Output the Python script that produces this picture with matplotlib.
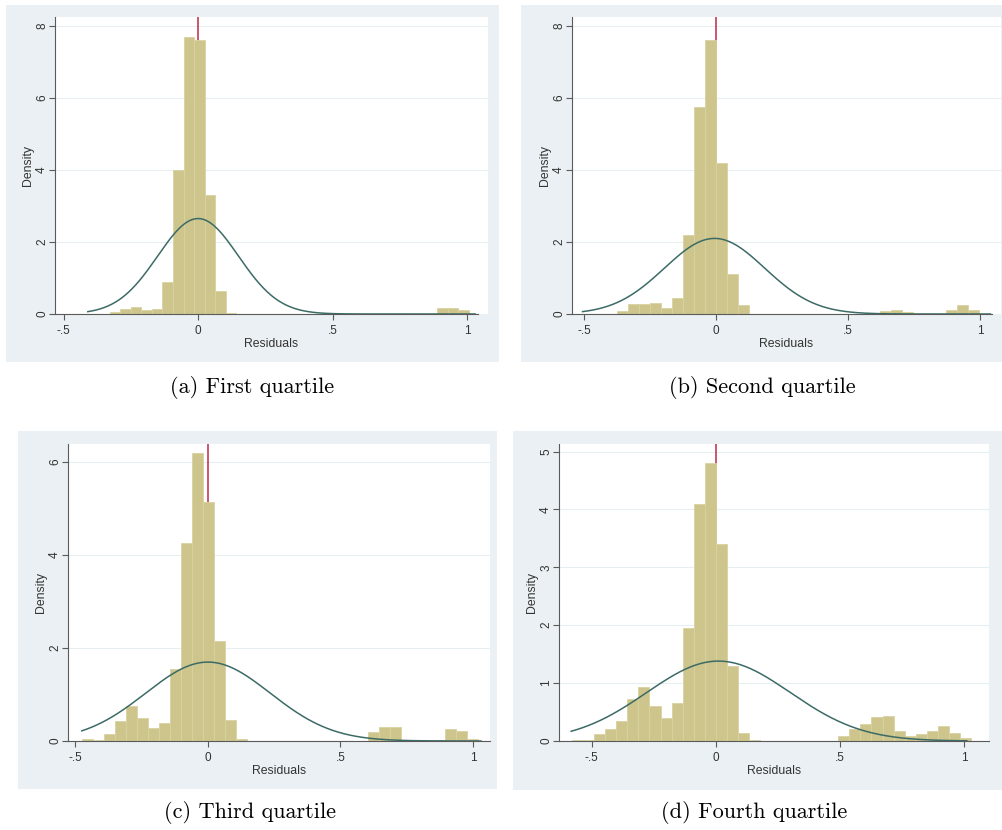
import numpy as np
import matplotlib
matplotlib.use("Agg")
import matplotlib.pyplot as plt
from matplotlib.patches import Rectangle

W, H = 1003, 830

# ---------------- data ----------------
captions = ["(a) First quartile", "(b) Second quartile",
            "(c) Third quartile", "(d) Fourth quartile"]

x_ticks = [-0.5, 0, 0.5, 1]
x_ticklabels = ["-.5", "0", ".5", "1"]

# Panel (a)
a_bin_start = -0.329
a_bin_width = 0.0393
a_heights = [0.05, 0.15, 0.2, 0.12, 0.15, 0.9, 4.0, 7.7, 7.6, 3.3, 0.65, 0.03,
             0, 0, 0, 0, 0, 0, 0, 0, 0, 0, 0, 0, 0, 0, 0.01, 0, 0, 0, 0.01,
             0.18, 0.18, 0.1]
a_mu, a_sigma = 0.0, 0.1505
a_curve_range = (-0.41, 1.03)
a_yticks = [0, 2, 4, 6, 8]

# Panel (b)
b_bin_start = -0.3735
b_bin_width = 0.0415
b_heights = [0.07, 0.28, 0.28, 0.3, 0.17, 0.45, 2.2, 5.75, 7.6,
             4.2, 1.1, 0.25, 0.01, 0, 0, 0, 0, 0, 0, 0, 0, 0, 0,
             0.02, 0.08, 0.12, 0.06, 0, 0, 0, 0.12, 0.25, 0.1]
b_mu, b_sigma = -0.005, 0.19
b_curve_range = (-0.505, 1.04)
b_yticks = [0, 2, 4, 6, 8]

# Panel (c)
c_bin_start = -0.477
c_bin_width = 0.0415
c_heights = [0.05, 0.03, 0.15, 0.42, 0.75, 0.5, 0.28, 0.38, 1.55, 4.25, 6.2,
             5.15, 2.15, 0.45, 0.04, 0.01, 0, 0, 0, 0, 0, 0, 0, 0, 0, 0,
             0.2, 0.3, 0.3, 0.02, 0.02, 0.03, 0.03, 0.25, 0.22, 0.05]
c_mu, c_sigma = 0.0, 0.235
c_curve_range = (-0.476, 1.03)
c_yticks = [0, 2, 4, 6]

# Panel (d)
d_bin_start = -0.581
d_bin_width = 0.0447
d_heights = [0.01, 0.02, 0.12, 0.2, 0.35, 0.72, 0.93, 0.6, 0.4, 0.65, 1.95, 4.1, 4.8,
             3.4, 1.3, 0.13, 0.01, 0, 0, 0, 0, 0, 0, 0,
             0.08, 0.2, 0.3, 0.42, 0.44, 0.18, 0.08, 0.12, 0.18, 0.26, 0.13, 0.05]
d_mu, d_sigma = 0.01, 0.289
d_curve_range = (-0.583, 1.01)
d_yticks = [0, 1, 2, 3, 4, 5]

# ---------------- layout / style ----------------
BG = "#EAF0F3"
BAR = "#CDC58B"
BAR_EDGE = "#D8D2A2"
CURVE = "#3C6B66"
RED = "#BB2A48"
AXC = "#5A5A5A"
TXT = "#333333"
FONT = "Liberation Sans"

panels = [
    dict(start=a_bin_start, width=a_bin_width, heights=a_heights, mu=a_mu, sigma=a_sigma,
         crange=a_curve_range, yticks=a_yticks,
         gray=(6, 5, 499, 362), box=(55, 17, 488, 314),
         xlim=(-0.532, 1.078), ylim=(0, 8.25), xbound=(-0.53, 1.04),
         cap=(252, 387)),
    dict(start=b_bin_start, width=b_bin_width, heights=b_heights, mu=b_mu, sigma=b_sigma,
         crange=b_curve_range, yticks=b_yticks,
         gray=(521, 5, 1003, 362), box=(572, 17, 1001, 314),
         xlim=(-0.545, 1.080), ylim=(0, 8.25), xbound=(-0.545, 1.045),
         cap=(762, 387)),
    dict(start=c_bin_start, width=c_bin_width, heights=c_heights, mu=c_mu, sigma=c_sigma,
         crange=c_curve_range, yticks=c_yticks,
         gray=(18, 431, 497, 789), box=(68, 444, 490, 741),
         xlim=(-0.528, 1.064), ylim=(0, 6.39), xbound=(-0.528, 1.064),
         cap=(250, 812)),
    dict(start=d_bin_start, width=d_bin_width, heights=d_heights, mu=d_mu, sigma=d_sigma,
         crange=d_curve_range, yticks=d_yticks,
         gray=(513, 431, 1002, 790), box=(559, 444, 989, 741),
         xlim=(-0.632, 1.099), ylim=(0, 5.13), xbound=(-0.632, 1.099),
         cap=(754, 812)),
]

fig = plt.figure(figsize=(W / 100, H / 100), dpi=100)
fig.patch.set_facecolor("white")

for i, p in enumerate(panels):
    gx0, gy0, gx1, gy1 = p["gray"]
    fig.add_artist(Rectangle((gx0 / W, 1 - gy1 / H), (gx1 - gx0) / W, (gy1 - gy0) / H,
                             transform=fig.transFigure, facecolor=BG, edgecolor="none",
                             zorder=0))
    x0, y0, x1, y1 = p["box"]
    ax = fig.add_axes([x0 / W, 1 - y1 / H, (x1 - x0) / W, (y1 - y0) / H])
    ax.set_facecolor("white")

    heights = np.array(p["heights"], dtype=float)
    edges = p["start"] + p["width"] * np.arange(len(heights))
    ax.axvline(0, color=RED, lw=1.1, zorder=1)
    ax.bar(edges, heights, width=p["width"], align="edge", color=BAR,
           edgecolor=BAR_EDGE, linewidth=0.6, zorder=2)
    xs = np.linspace(p["crange"][0], p["crange"][1], 400)
    pdf = np.exp(-0.5 * ((xs - p["mu"]) / p["sigma"]) ** 2) / (p["sigma"] * np.sqrt(2 * np.pi))
    ax.plot(xs, pdf, color=CURVE, lw=1.1, zorder=3)

    ax.set_xlim(*p["xlim"])
    ax.set_ylim(*p["ylim"])
    ax.set_yticks(p["yticks"])
    ax.set_yticklabels([str(t) for t in p["yticks"]], rotation=90, va="center",
                       fontsize=8.5, family=FONT, color=TXT)
    ax.set_xticks(x_ticks)
    ax.set_xticklabels(x_ticklabels, fontsize=8.5, family=FONT, color=TXT)
    ax.grid(axis="y", color="#E6EEF1", lw=0.8, zorder=0)
    ax.set_axisbelow(True)
    for s in ["top", "right"]:
        ax.spines[s].set_visible(False)
    for s in ["left", "bottom"]:
        ax.spines[s].set_color(AXC)
        ax.spines[s].set_linewidth(0.8)
    ax.spines["bottom"].set_bounds(*p["xbound"])
    ax.tick_params(axis="y", colors=AXC, length=4, width=0.8, pad=1,
                   labelcolor=TXT)
    ax.tick_params(axis="x", colors=AXC, length=4, width=0.8, pad=4,
                   labelcolor=TXT)
    ax.set_xlabel("Residuals", fontsize=8.8, family=FONT, color=TXT, labelpad=0.5)
    ax.set_ylabel("Density", fontsize=8.8, family=FONT, color=TXT, labelpad=1.5)

    cx, cy = p["cap"]
    fig.text(cx / W, 1 - cy / H, captions[i], ha="center", va="center",
             fontsize=16, family="cmr10", color="black")

fig.savefig("out.png", dpi=100)
